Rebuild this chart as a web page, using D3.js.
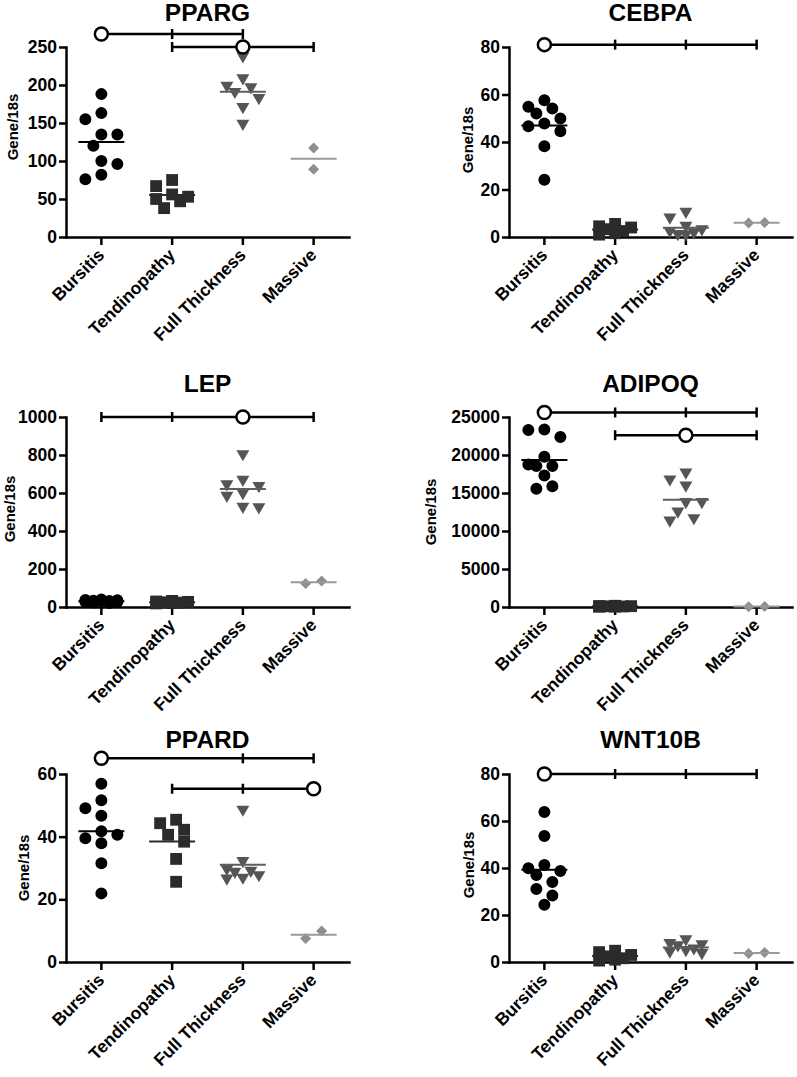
<!DOCTYPE html>
<html>
<head>
<meta charset="utf-8">
<script src="https://cdn.jsdelivr.net/npm/d3@7"></script>
<style>
    body { margin: 0; background: #ffffff; }
    text { font-family: 'Liberation Sans', Arial, sans-serif; font-weight: bold; }
</style>
</head>
<body>
<div id="chart"></div>
<script>
const groups = ['Bursitis', 'Tendinopathy', 'Full Thickness', 'Massive'];
const groupColors = ['#000000', '#2b2b2b', '#555555', '#8e8e8e'];
const meanColors = ['#000000', '#2b2b2b', '#5e5e5e', '#9a9a9a'];

// values per group
const ppargTicks = [0, 50, 100, 150, 200, 250];
const ppargValues = [
    [188, 163, 155, 135, 135, 120, 100, 96, 82, 76],
    [75, 67, 56, 53, 50, 47, 38],
    [237, 208, 198, 196, 190, 182, 170, 148],
    [117, 89]
];
const ppargBrackets = [
    { y: 267, ref: 'Bursitis', vs: ['Tendinopathy', 'Full Thickness'] },
    { y: 250, ref: 'Full Thickness', vs: ['Tendinopathy', 'Massive'] }
];

const cebpaTicks = [0, 20, 40, 60, 80];
const cebpaValues = [
    [57.6, 54.8, 54.1, 52.0, 49.9, 47.8, 46.6, 44.5, 38.2, 24.1],
    [5.5, 4.5, 4.0, 3.3, 2.5, 1.6, 1.0],
    [10.3, 7.9, 4.4, 3.0, 2.2, 1.7, 1.0, 0.8],
    [6.1, 5.9]
];
const cebpaBrackets = [
    { y: 81, ref: 'Bursitis', vs: ['Tendinopathy', 'Full Thickness', 'Massive'] }
];

const lepTicks = [0, 200, 400, 600, 800, 1000];
const lepValues = [
    [40, 37, 35, 33, 31, 30, 28, 26, 24, 21],
    [32, 29, 27, 25, 23, 21, 19],
    [801, 666, 642, 633, 596, 582, 524, 521],
    [137, 124]
];
const lepBrackets = [
    { y: 1000, ref: 'Full Thickness', vs: ['Bursitis', 'Tendinopathy', 'Massive'] }
];

const adipoqTicks = [0, 5000, 10000, 15000, 20000, 25000];
const adipoqValues = [
    [23350, 23290, 22360, 19780, 18760, 18540, 18540, 17310, 15900, 15560],
    [160, 130, 110, 90, 70, 50, 30],
    [17600, 16700, 15900, 13710, 13710, 12470, 11600, 11290],
    [60, 40]
];
const adipoqBrackets = [
    { y: 25600, ref: 'Bursitis', vs: ['Tendinopathy', 'Full Thickness', 'Massive'] },
    { y: 22600, ref: 'Full Thickness', vs: ['Tendinopathy', 'Massive'] }
];

const ppardTicks = [0, 20, 40, 60];
const ppardValues = [
    [56.9, 51.6, 49.1, 46.7, 41.7, 40.6, 39.5, 37.9, 31.5, 21.9],
    [45.4, 44.3, 42.2, 40.6, 38.4, 32.9, 25.6],
    [48.4, 32.0, 29.5, 28.9, 28.6, 27.5, 26.7, 26.4],
    [9.9, 7.5]
];
const ppardBrackets = [
    { y: 65, ref: 'Bursitis', vs: ['Full Thickness', 'Massive'] },
    { y: 55.3, ref: 'Massive', vs: ['Tendinopathy', 'Full Thickness'] }
];

const wnt10bTicks = [0, 20, 40, 60, 80];
const wnt10bValues = [
    [63.8, 53.6, 41.3, 39.9, 38.7, 37.0, 34.0, 31.1, 28.3, 24.4],
    [4.8, 4.2, 3.0, 2.4, 1.6, 1.0, 0.6],
    [9.4, 7.8, 7.3, 6.8, 5.5, 4.8, 4.2, 3.5],
    [4.0, 3.6]
];
const wnt10bBrackets = [
    { y: 80, ref: 'Bursitis', vs: ['Tendinopathy', 'Full Thickness', 'Massive'] }
];

// layout
const width = 797;
const height = 1077;
const colX = [66, 509];
const plotW = 283;
const rowTop = [47, 417, 774];
const rowBottom = [237, 607, 962];
const titleY = [21, 392, 748];

const panels = [
    { gene: 'PPARG', col: 0, row: 0, ticks: ppargTicks, values: ppargValues, brackets: ppargBrackets, labelDx: -53, labelDy: -15 },
    { gene: 'CEBPA', col: 1, row: 0, ticks: cebpaTicks, values: cebpaValues, brackets: cebpaBrackets, labelDx: -41, labelDy: -2 },
    { gene: 'LEP', col: 0, row: 1, ticks: lepTicks, values: lepValues, brackets: lepBrackets, labelDx: -56, labelDy: -3 },
    { gene: 'ADIPOQ', col: 1, row: 1, ticks: adipoqTicks, values: adipoqValues, brackets: adipoqBrackets, labelDx: -78, labelDy: 0 },
    { gene: 'PPARD', col: 0, row: 2, ticks: ppardTicks, values: ppardValues, brackets: ppardBrackets, labelDx: -42, labelDy: 0 },
    { gene: 'WNT10B', col: 1, row: 2, ticks: wnt10bTicks, values: wnt10bValues, brackets: wnt10bBrackets, labelDx: -40, labelDy: -3 }
];

// custom marker shapes
const triangleDown = {
    draw(ctx, size) {
        const s = Math.sqrt(size);
        ctx.moveTo(-s / 2, -s * 0.36);
        ctx.lineTo(s / 2, -s * 0.36);
        ctx.lineTo(0, s * 0.5);
        ctx.closePath();
    }
};
const diamond = {
    draw(ctx, size) {
        const r = Math.sqrt(size) / 2;
        ctx.moveTo(0, -r);
        ctx.lineTo(r, 0);
        ctx.lineTo(0, r);
        ctx.lineTo(-r, 0);
        ctx.closePath();
    }
};
const symbolTypes = [d3.symbolCircle, d3.symbolSquare, triangleDown, diamond];
const symbolSizes = [113, 140, 169, 121];

// simple beeswarm: spread points sideways so they don't sit on each other
function swarm(values, y) {
    const step = 8, maxOff = 16, minDist = 11.5;
    const pts = values.map((v) => ({ v, py: y(v), dx: 0 })).sort((a, b) => a.py - b.py);
    const placed = [];
    let side = -1;
    pts.forEach((p) => {
        const cands = [0];
        for (let k = step; k <= maxOff; k += step) cands.push(side * k, -side * k);
        let best = 0, bestD = -1;
        for (const c of cands) {
            let d = Infinity;
            placed.forEach((q) => { d = Math.min(d, Math.hypot(c - q.dx, p.py - q.py)); });
            if (d >= minDist) { best = c; bestD = Infinity; break; }
            if (d > bestD) { bestD = d; best = c; }
        }
        p.dx = best;
        if (best !== 0) side = -side;
        placed.push(p);
    });
    const mid = (d3.min(pts, (p) => p.dx) + d3.max(pts, (p) => p.dx)) / 2;
    pts.forEach((p) => { p.dx -= mid; });
    return pts;
}

function drawPanel(svg, p) {
    const x0 = colX[p.col];
    const top = rowTop[p.row];
    const bottom = rowBottom[p.row];

    const x = d3.scaleBand().domain(groups).range([x0, x0 + plotW]);
    const y = d3.scaleLinear().domain([0, d3.max(p.ticks)]).range([bottom, top]);
    const cx = (c) => x(c) + x.bandwidth() / 2;

    const g = svg.append('g');

    // title
    g.append('text')
        .attr('x', x0 + plotW / 2)
        .attr('y', titleY[p.row])
        .attr('text-anchor', 'middle')
        .style('font-size', '24.5px')
        .text(p.gene);

    // y axis
    const yAxis = g.append('g')
        .attr('transform', `translate(${x0},0)`)
        .call(d3.axisLeft(y).tickValues(p.ticks).tickFormat(d3.format('d')).tickSize(7).tickPadding(2).tickSizeOuter(0));

    // x axis
    const xAxis = g.append('g')
        .attr('transform', `translate(0,${bottom})`)
        .call(d3.axisBottom(x).tickSize(8).tickSizeOuter(0));

    [yAxis, xAxis].forEach((a) => {
        a.attr('font-family', null).attr('font-size', null).attr('color', '#000');
        a.select('.domain').attr('stroke-width', 2.5).attr('stroke-linecap', 'square');
        a.selectAll('.tick line').attr('stroke-width', 2.5);
    });
    yAxis.selectAll('.tick text').style('font-size', '17.5px');
    xAxis.selectAll('.tick text')
        .attr('x', 0)
        .attr('y', 0)
        .attr('dy', 0)
        .attr('transform', 'translate(4,19) rotate(-45)')
        .style('text-anchor', 'end')
        .style('font-size', '17.5px');

    // y axis title
    g.append('text')
        .attr('transform', `translate(${x0 + p.labelDx},${(top + bottom) / 2 + p.labelDy}) rotate(-90)`)
        .attr('text-anchor', 'middle')
        .attr('dy', '0.35em')
        .style('font-size', '15px')
        .text('Gene/18s');

    // points
    p.values.forEach((vals, i) => {
        const pts = swarm(vals, y);
        g.append('g')
            .selectAll('path')
            .data(pts)
            .enter()
            .append('path')
            .attr('d', d3.symbol().type(symbolTypes[i]).size(symbolSizes[i]))
            .attr('transform', (d) => `translate(${cx(groups[i]) + d.dx},${d.py})`)
            .style('fill', groupColors[i]);
    });

    // mean lines
    p.values.forEach((vals, i) => {
        const m = d3.mean(vals);
        g.append('line')
            .attr('x1', cx(groups[i]) - 23)
            .attr('x2', cx(groups[i]) + 23)
            .attr('y1', y(m))
            .attr('y2', y(m))
            .style('stroke', meanColors[i])
            .style('stroke-width', 2);
    });

    // significance brackets
    p.brackets.forEach((b) => {
        const xs = [b.ref, ...b.vs].map(cx);
        const by = y(b.y);
        g.append('line')
            .attr('x1', d3.min(xs))
            .attr('x2', d3.max(xs))
            .attr('y1', by)
            .attr('y2', by)
            .style('stroke', '#000')
            .style('stroke-width', 2.5);
        g.selectAll(null)
            .data(b.vs)
            .enter()
            .append('line')
            .attr('x1', cx)
            .attr('x2', cx)
            .attr('y1', by - 5)
            .attr('y2', by + 5)
            .style('stroke', '#000')
            .style('stroke-width', 2.5);
        g.append('circle')
            .attr('cx', cx(b.ref))
            .attr('cy', by)
            .attr('r', 6.5)
            .style('fill', '#fff')
            .style('stroke', '#000')
            .style('stroke-width', 2.5);
    });
}

function drawChart() {
    const svg = d3
        .select('#chart')
        .append('svg')
        .attr('width', width)
        .attr('height', height);

    panels.forEach((p) => drawPanel(svg, p));
}

drawChart();
</script>
</body>
</html>
